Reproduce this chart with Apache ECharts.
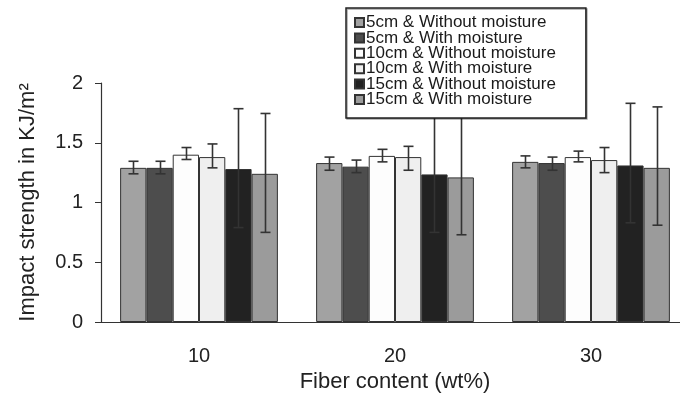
<!DOCTYPE html>
<html lang="en">
<head>
    <meta charset="UTF-8">
    <title>Impact strength</title>
    <script src="https://cdn.jsdelivr.net/npm/echarts@6/dist/echarts.min.js"></script>
    <style>
        html, body { margin: 0; padding: 0; background: #fff; }
        #chart { width: 680px; height: 394px; }
    </style>
</head>
<body>
    <div id="chart"></div>
    <script>
        // fiber content categories
        var categories = ['10', '20', '30'];
        var seriesNames = [
            '5cm & Without moisture',
            '5cm & With moisture',
            '10cm & Without moisture',
            '10cm & With moisture',
            '15cm & Without moisture',
            '15cm & With moisture'
        ];
        var colors = ['#a2a2a2', '#4d4d4d', '#fdfdfd', '#efefef', '#222222', '#9b9b9b'];

        // mean values per series
        var s5Without = [1.29, 1.33, 1.34];
        var s5With = [1.29, 1.30, 1.33];
        var s10Without = [1.40, 1.39, 1.38];
        var s10With = [1.38, 1.38, 1.355];
        var s15Without = [1.28, 1.235, 1.31];
        var s15With = [1.24, 1.21, 1.29];

        // error bar low / high ends
        var lo5Without = [1.24, 1.27, 1.29];
        var hi5Without = [1.345, 1.38, 1.39];
        var lo5With = [1.24, 1.25, 1.27];
        var hi5With = [1.345, 1.355, 1.38];
        var lo10Without = [1.36, 1.34, 1.34];
        var hi10Without = [1.46, 1.445, 1.43];
        var lo10With = [1.29, 1.27, 1.25];
        var hi10With = [1.49, 1.47, 1.46];
        var lo15Without = [0.79, 0.75, 0.83];
        var hi15Without = [1.785, 1.75, 1.83];
        var lo15With = [0.75, 0.73, 0.81];
        var hi15With = [1.745, 1.75, 1.80];

        var values = [s5Without, s5With, s10Without, s10With, s15Without, s15With];
        var lows = [lo5Without, lo5With, lo10Without, lo10With, lo15Without, lo15With];
        var highs = [hi5Without, hi5With, hi10Without, hi10With, hi15Without, hi15With];

        var catGap = 0.195;
        var nSeries = seriesNames.length;

        var errData = [];
        for (var s = 0; s < nSeries; s++) {
            for (var c = 0; c < categories.length; c++) {
                errData.push([c, lows[s][c], highs[s][c], s]);
            }
        }

        function renderErr(params, api) {
            var c = api.value(0);
            var band = api.size([1, 0])[0];
            var bw = band * (1 - catGap) / nSeries;
            var sIdx = api.value(3);
            var off = -band * (1 - catGap) / 2 + (sIdx + 0.5) * bw;
            var pLo = api.coord([c, api.value(1)]);
            var pHi = api.coord([c, api.value(2)]);
            var x = Math.round(pLo[0] + off) + 0.5;
            var cap = 5;
            var style = { stroke: '#333', lineWidth: 1.6 };
            return {
                type: 'group',
                children: [
                    { type: 'line', shape: { x1: x, y1: pLo[1], x2: x, y2: pHi[1] }, style: style },
                    { type: 'line', shape: { x1: x - cap, y1: pLo[1], x2: x + cap, y2: pLo[1] }, style: style },
                    { type: 'line', shape: { x1: x - cap, y1: pHi[1], x2: x + cap, y2: pHi[1] }, style: style }
                ]
            };
        }

        var series = seriesNames.map(function (name, i) {
            return {
                name: name,
                type: 'bar',
                data: values[i],
                barGap: '0%',
                barCategoryGap: (catGap * 100) + '%',
                itemStyle: { color: colors[i], borderColor: '#333', borderWidth: 1 },
                emphasis: { disabled: true }
            };
        });
        series.push({
            name: 'err',
            type: 'custom',
            renderItem: renderErr,
            data: errData,
            z: 3,
            silent: true
        });

        var chart = echarts.init(document.getElementById('chart'));
        chart.setOption({
            animation: false,
            textStyle: { fontFamily: 'Liberation Sans, Arial, sans-serif' },
            grid: {
                left: 101, top: 83, width: 588, height: 239,
                containLabel: false, outerBoundsMode: 'none'
            },
            legend: {
                data: seriesNames,
                orient: 'vertical',
                left: 346,
                top: 8,
                itemWidth: 9,
                itemHeight: 9,
                itemGap: -1.6,
                padding: [6, 30, 10, 8],
                icon: 'rect',
                backgroundColor: '#fff',
                borderColor: '#222',
                borderWidth: 1.5,
                shadowColor: 'rgba(0,0,0,0.35)',
                shadowOffsetX: 1,
                shadowOffsetY: 1,
                z: 10,
                selectedMode: false,
                textStyle: {
                    fontSize: 17, color: '#1a1a1a',
                    padding: [0, 0, 0, -3]
                }
            },
            xAxis: {
                type: 'category',
                data: categories,
                name: 'Fiber content (wt%)',
                nameLocation: 'middle',
                nameGap: 45,
                nameTextStyle: { fontSize: 22, color: '#222' },
                axisLine: { lineStyle: { color: '#333', width: 1.2 } },
                axisTick: { length: 8, lineStyle: { color: '#333' } },
                axisLabel: { fontSize: 20, color: '#222', margin: 24 }
            },
            yAxis: {
                type: 'value',
                min: 0,
                max: 2,
                interval: 0.5,
                name: 'Impact strength in KJ/m²',
                nameLocation: 'middle',
                nameGap: 62,
                nameTextStyle: { fontSize: 22, color: '#222' },
                axisLine: { show: true, lineStyle: { color: '#333', width: 1.2 } },
                axisTick: { show: true, length: 6, lineStyle: { color: '#333' } },
                axisLabel: { fontSize: 20, color: '#222', margin: 18 },
                splitLine: { show: false }
            },
            series: series
        });
    </script>
</body>
</html>
